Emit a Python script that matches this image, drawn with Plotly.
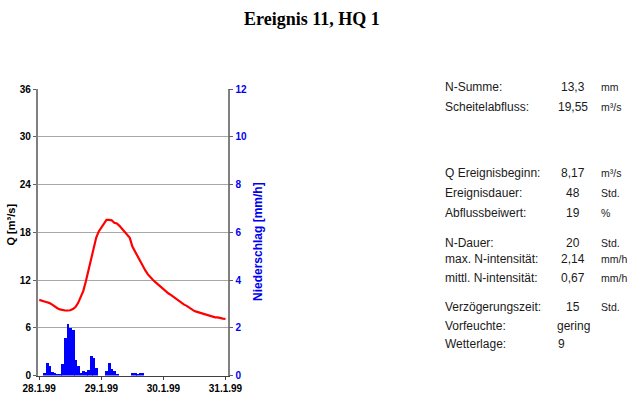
import pandas as pd
import plotly.graph_objects as go

# ---- data ----
start_date = "1999-01-28"
q_hours = list(range(0, 73))
q_values = [9.5, 9.35, 9.3, 9.2, 9.1, 8.9, 8.65, 8.45, 8.3, 8.2, 8.17, 8.17, 8.2, 8.35,
            8.6, 9.1, 9.8, 10.6, 11.8, 13.1, 14.5, 15.7, 17.3, 18.1, 18.6, 19.2, 19.55,
            19.55, 19.5, 19.2, 19.1, 18.8, 18.4, 18.0, 17.6, 17.3, 16.2, 15.6, 15.0, 14.3,
            13.7, 13.2, 12.7, 12.3, 12.0, 11.7, 11.4, 11.1, 10.8, 10.5, 10.3, 10.1, 9.85,
            9.6, 9.4, 9.15, 8.9, 8.75, 8.5, 8.3, 8.1, 8.0, 7.9, 7.75, 7.65, 7.6, 7.45, 7.4,
            7.3, 7.3, 7.2, 7.15, 7.1]
rain_hours = [2, 3, 4, 5, 6, 7, 8, 9, 10, 11, 12, 13, 14, 15, 16, 17, 18, 19, 20, 21, 22,
              26, 27, 28, 29, 30, 36, 37, 38, 39, 40]
rain_values = [0.1, 0.53, 0.4, 0.16, 0.1, 0.08, 0.08, 0.5, 1.55, 2.14, 2.0, 1.9, 0.63, 0.4,
               0.1, 0.18, 0.15, 0.25, 0.82, 0.74, 0.33,
               0.17, 0.54, 0.28, 0.18, 0.07, 0.12, 0.12, 0.05, 0.1, 0.1]
tick_dates = ["1999-01-28", "1999-01-29", "1999-01-30", "1999-01-31"]
tick_labels = ["28.1.99", "29.1.99", "30.1.99", "31.1.99"]
q_ticks = [0, 6, 12, 18, 24, 30, 36]
rain_ticks = [0, 2, 4, 6, 8, 10, 12]

title = "Ereignis 11, HQ 1"
info_labels = ["N-Summe:", "Scheitelabfluss:", "Q Ereignisbeginn:", "Ereignisdauer:",
               "Abflussbeiwert:", "N-Dauer:", "max. N-intensität:", "mittl. N-intensität:",
               "Verzögerungszeit:", "Vorfeuchte:", "Wetterlage:"]
info_values = ["13,3", "19,55", "8,17", "48", "19", "20", "2,14", "0,67", "15", "gering", "9"]
info_units = ["mm", "m³/s", "m³/s", "Std.", "%", "Std.", "mm/h", "mm/h", "Std.", "", ""]
info_rows_y = [87, 107, 173, 193, 213, 243, 259, 278, 307, 326, 344]

# ---- figure ----
W, H = 643, 402
base = pd.Timestamp(start_date)
q_x = base + pd.to_timedelta(q_hours, unit="h")
r_x = base + pd.to_timedelta(rain_hours, unit="h")

fig = go.Figure()
fig.add_trace(go.Bar(x=r_x, y=rain_values, yaxis="y2", width=3900000,
                     marker=dict(color="#0000ff", line=dict(width=0)), showlegend=False))
fig.add_trace(go.Scatter(x=q_x, y=q_values, mode="lines",
                         line=dict(color="#ff0000", width=2.2), showlegend=False))

x0 = base - pd.Timedelta(hours=0.6)
x1 = base + pd.Timedelta(hours=72.85)
ydom = [1 - 375.5 / H, 1 - 89 / H]
xdom = [37.7 / W, 227.7 / W]

fig.update_layout(
    width=W, height=H, margin=dict(l=0, r=0, t=0, b=0),
    paper_bgcolor="white", plot_bgcolor="white", bargap=0,
    xaxis=dict(domain=xdom, range=[x0, x1], tickmode="array",
               tickvals=pd.to_datetime(tick_dates), ticktext=tick_labels,
               tickfont=dict(family="Liberation Sans, Arial", size=10, color="#000000",
                             weight="bold"),
               ticks="outside", ticklen=3, tickcolor="#404040", showgrid=False,
               showline=True, linecolor="#404040", linewidth=1, zeroline=False,
               automargin=False),
    yaxis=dict(domain=ydom, range=[0, 36], tickvals=q_ticks,
               tickfont=dict(family="Liberation Sans, Arial", size=10, color="#000000",
                             weight="bold"),
               ticks="outside", ticklen=3, tickcolor="#606060",
               showgrid=True, gridcolor="#a8a8a8", gridwidth=1,
               showline=True, linecolor="#808080", linewidth=1.5, zeroline=False,
               automargin=False),
    yaxis2=dict(domain=ydom, range=[0, 12], tickvals=rain_ticks, overlaying="y",
                side="right", anchor="x",
                tickfont=dict(family="Liberation Sans, Arial", size=10, color="#0000ee",
                              weight="bold"),
                ticks="outside", ticklen=4, tickcolor="#606060", showgrid=False,
                showline=True, linecolor="#808080", linewidth=1.5, zeroline=False,
                automargin=False),
)

ann = []
ann.append(dict(text="<b>" + title + "</b>", x=311.7 / W, y=1 - 19 / H,
                xref="paper", yref="paper", xanchor="center", yanchor="middle",
                showarrow=False,
                font=dict(family="Liberation Serif, Times New Roman", size=18,
                          color="#000000")))
ann.append(dict(text="<b>Q [m³/s]</b>", x=10.5 / W, y=1 - 225 / H, textangle=-90,
                xref="paper", yref="paper", xanchor="center", yanchor="middle",
                showarrow=False,
                font=dict(family="Liberation Sans, Arial", size=11, color="#000000")))
ann.append(dict(text="<b>Niederschlag [mm/h]</b>", x=257.5 / W, y=1 - 241.5 / H,
                textangle=-90, xref="paper", yref="paper", xanchor="center",
                yanchor="middle", showarrow=False,
                font=dict(family="Liberation Sans, Arial", size=12, color="#0000ee")))

txt_col = "#1a1a1a"
for lab, val, unit, yy in zip(info_labels, info_values, info_units, info_rows_y):
    ann.append(dict(text=lab, x=443 / W, y=1 - yy / H, xref="paper", yref="paper",
                    xanchor="left", yanchor="middle", showarrow=False,
                    font=dict(family="Liberation Sans, Arial", size=12, color=txt_col)))
    vx = 561 if val == "9" else 573
    ann.append(dict(text=val, x=vx / W, y=1 - yy / H, xref="paper", yref="paper",
                    xanchor="center", yanchor="middle", showarrow=False,
                    font=dict(family="Liberation Sans, Arial", size=12, color=txt_col)))
    if unit:
        ann.append(dict(text=unit, x=599 / W, y=1 - yy / H, xref="paper", yref="paper",
                        xanchor="left", yanchor="middle", showarrow=False,
                        font=dict(family="Liberation Sans, Arial", size=10.5,
                                  color=txt_col)))
fig.update_layout(annotations=ann)

fig.write_html("out.html")
